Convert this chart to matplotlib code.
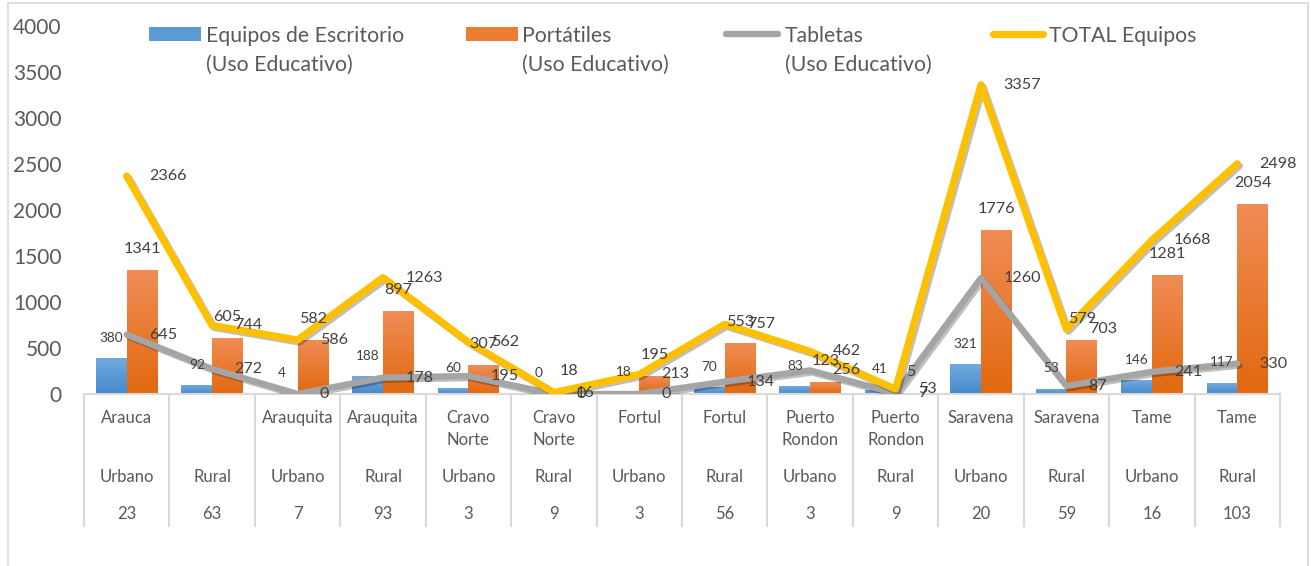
import numpy as np
import matplotlib
matplotlib.use("Agg")
import matplotlib.pyplot as plt
import matplotlib.patheffects as pe
from matplotlib.colors import LinearSegmentedColormap
from matplotlib.patches import Rectangle
from matplotlib.lines import Line2D

plt.rcParams['font.family'] = ['Lato', 'DejaVu Sans']

# datos
municipios = ["Arauca", "", "Arauquita", "Arauquita", "Cravo\nNorte", "Cravo\nNorte",
              "Fortul", "Fortul", "Puerto\nRondon", "Puerto\nRondon", "Saravena",
              "Saravena", "Tame", "Tame"]
zonas = ["Urbano", "Rural"] * 7
sedes = [23, 63, 7, 93, 3, 9, 3, 56, 3, 9, 20, 59, 16, 103]
escritorio = [380, 92, 4, 188, 60, 0, 18, 70, 83, 41, 321, 53, 146, 117]
portatiles = [1341, 605, 582, 897, 307, 18, 195, 553, 123, 5, 1776, 579, 1281, 2054]
tabletas = [645, 272, 0, 178, 195, 0, 0, 134, 256, 7, 1260, 87, 241, 330]
total = [2366, 744, 586, 1263, 562, 16, 213, 757, 462, 53, 3357, 703, 1668, 2498]

W, H = 1311, 566
fig = plt.figure(figsize=(W / 100, H / 100), dpi=100)
ax = fig.add_axes([84 / W, (H - 394) / H, (1280 - 84) / W, (394 - 25.5) / H])

x = np.arange(len(municipios))
bw = 0.36

cmap_blue = LinearSegmentedColormap.from_list("b", ["#4589cc", "#72aade"])
cmap_orange = LinearSegmentedColormap.from_list("o", ["#e2690f", "#f08c55"])
grad = np.linspace(0, 1, 64).reshape(-1, 1)

for xi, v in zip(x, escritorio):
    if v > 0:
        ax.imshow(grad, extent=[xi - bw, xi, 0, v], origin="lower", aspect="auto",
                  cmap=cmap_blue, zorder=2)
for xi, v in zip(x, portatiles):
    if v > 0:
        ax.imshow(grad, extent=[xi, xi + bw, 0, v], origin="lower", aspect="auto",
                  cmap=cmap_orange, zorder=2)

shadow = [pe.SimpleLineShadow(offset=(1.5, -1.5), shadow_color="k", alpha=0.25), pe.Normal()]
ax.plot(x, tabletas, color="#a5a5a5", lw=4.6, solid_joinstyle="round",
        solid_capstyle="round", zorder=3, path_effects=shadow)
ax.plot(x, total, color="#ffc000", lw=5.2, solid_joinstyle="round",
        solid_capstyle="round", zorder=4, path_effects=shadow)

ax.set_xlim(-0.5, len(x) - 0.5)
ax.set_ylim(0, 4000)
ax.set_yticks(np.arange(0, 4001, 500))
ax.set_xticks([])
ax.tick_params(axis="y", length=0, labelsize=15, labelcolor="#595959", pad=16)
for s in ["top", "right", "left"]:
    ax.spines[s].set_visible(False)
ax.spines["bottom"].set_color("#d9d9d9")
ax.spines["bottom"].set_linewidth(1.5)

# etiquetas de datos
lab = "#404040"
for xi, v in zip(x, escritorio):
    ax.annotate(str(v), (xi - bw / 2, v), xytext=(0, 15), textcoords="offset points",
                ha="center", va="center", fontsize=9.8, color=lab, zorder=6)
for xi, v in zip(x, portatiles):
    ax.annotate(str(v), (xi + bw / 2, v), xytext=(0, 15.5), textcoords="offset points",
                ha="center", va="center", fontsize=11.6, color=lab, zorder=6)
for xi, v in zip(x, tabletas):
    ax.annotate(str(v), (xi, v), xytext=(16, 0), textcoords="offset points",
                ha="left", va="center", fontsize=11.6, color=lab, zorder=6)
for xi, v in zip(x, total):
    ax.annotate(str(v), (xi, v), xytext=(16, 0), textcoords="offset points",
                ha="left", va="center", fontsize=11.6, color=lab, zorder=6)

# eje de categorias de varios niveles
tr = ax.get_xaxis_transform()
hpx = 394 - 25.5
def fy(ypix):
    return (394 - ypix) / hpx

for xi, m, z, n in zip(x, municipios, zonas, sedes):
    for k, line in enumerate(m.split("\n")):
        ax.text(xi, fy(418 + 22 * k), line, transform=tr, ha="center", va="center",
                fontsize=12, color="#595959")
    ax.text(xi, fy(477), z, transform=tr, ha="center", va="center",
            fontsize=12, color="#595959")
    ax.text(xi, fy(514), str(n), transform=tr, ha="center", va="center",
            fontsize=12, color="#595959")
for b in np.arange(-0.5, len(x), 1.0):
    ax.plot([b, b], [0, fy(526)], transform=tr, color="#d9d9d9", lw=1.5,
            clip_on=False, zorder=1)

# leyenda
def fx(px):
    return px / W
def fyy(py):
    return (H - py) / H

fig.patches.append(Rectangle((fx(149), fyy(41)), fx(52), 14 / H, transform=fig.transFigure,
                             facecolor="#5b9bd5", edgecolor="none"))
fig.patches.append(Rectangle((fx(466), fyy(41)), fx(52), 14 / H, transform=fig.transFigure,
                             facecolor="#ed7d31", edgecolor="none"))
fig.lines.append(Line2D([fx(726), fx(778)], [fyy(34), fyy(34)], transform=fig.transFigure,
                        color="#a5a5a5", lw=4.6, solid_capstyle="round"))
fig.lines.append(Line2D([fx(993), fx(1043)], [fyy(34), fyy(34)], transform=fig.transFigure,
                        color="#ffc000", lw=5.2, solid_capstyle="round"))
for px, t in [(206, "Equipos de Escritorio\n(Uso Educativo)"),
              (522, "Portátiles\n(Uso Educativo)"),
              (785, "Tabletas\n(Uso Educativo)"),
              (1049, "TOTAL Equipos")]:
    for k, line in enumerate(t.split("\n")):
        fig.text(fx(px), fyy(34 + 29 * k), line, ha="left", va="center_baseline",
                 fontsize=15.3, color="#595959")

# borde del grafico
fig.patches.append(Rectangle((fx(8), -0.01), fx(1300), (H - 3) / H + 0.01,
                             transform=fig.transFigure, facecolor="none",
                             edgecolor="#d9d9d9", lw=1.2))

fig.savefig("out.png", dpi=100)
